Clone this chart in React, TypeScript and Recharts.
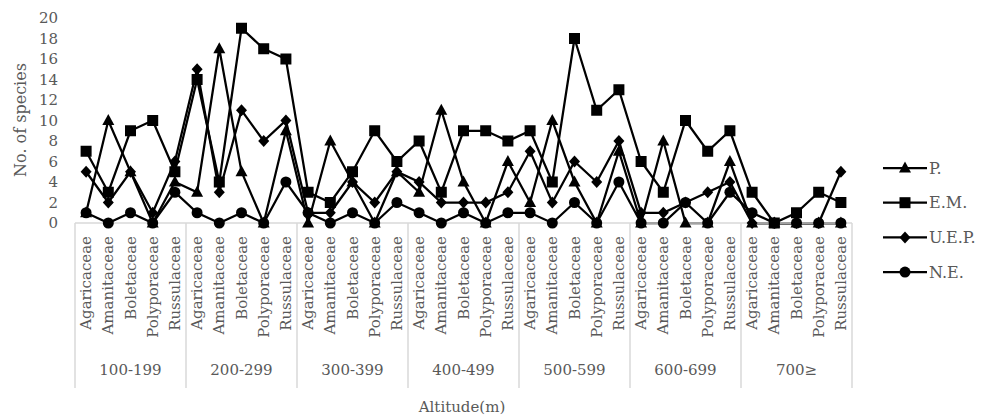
import React from 'react';
import { LineChart, Line, XAxis, YAxis, Legend } from 'recharts';

const families = ['Agaricaceae', 'Amanitaceae', 'Boletaceae', 'Polyporaceae', 'Russulaceae'];
const altitudes = ['100-199', '200-299', '300-399', '400-499', '500-599', '600-699', '700≥'];

// values per altitude group, 5 families each
const pValues = [1, 10, 5, 0, 4, 3, 17, 5, 0, 9, 0, 8, 4, 0, 5, 3, 11, 4, 0, 6, 2, 10, 4, 0, 7, 0, 8, 0, 0, 6, 0, 0, 0, 0, 0];
const emValues = [7, 3, 9, 10, 5, 14, 4, 19, 17, 16, 3, 2, 5, 9, 6, 8, 3, 9, 9, 8, 9, 4, 18, 11, 13, 6, 3, 10, 7, 9, 3, 0, 1, 3, 2];
const uepValues = [5, 2, 5, 1, 6, 15, 3, 11, 8, 10, 1, 1, 4, 2, 5, 4, 2, 2, 2, 3, 7, 2, 6, 4, 8, 1, 1, 2, 3, 4, 0, 0, 0, 0, 5];
const neValues = [1, 0, 1, 0, 3, 1, 0, 1, 0, 4, 1, 0, 1, 0, 2, 1, 0, 1, 0, 1, 1, 0, 2, 0, 4, 0, 0, 2, 0, 3, 1, 0, 0, 0, 0];
const yTicks = [0, 2, 4, 6, 8, 10, 12, 14, 16, 18, 20];

const data = altitudes.flatMap((alt, g) =>
  families.map((fam, f) => {
    const i = g * 5 + f;
    return { key: `${alt}|${fam}`, alt, fam, p: pValues[i], em: emValues[i], uep: uepValues[i], ne: neValues[i] };
  })
);

const W = 991;
const H = 417;
const LEFT = 75;
const RIGHT = 852;
const TOP = 18;
const AXIS_Y = 223;
const LEGEND_W = 110;
const BW = (RIGHT - LEFT) / data.length;
const GRAY = '#595959';
const LINE_GRAY = '#d9d9d9';
const FONT = 'DejaVu Serif';

type Shape = 'triangle' | 'square' | 'diamond' | 'circle';

const marker = (shape: Shape, cx: number, cy: number, key?: string) => {
  switch (shape) {
    case 'triangle':
      return <path key={key} d={`M${cx},${cy - 6.5} L${cx + 6},${cy + 4.5} L${cx - 6},${cy + 4.5} Z`} fill="#000" />;
    case 'square':
      return <rect key={key} x={cx - 5.5} y={cy - 5.5} width={11} height={11} fill="#000" />;
    case 'diamond':
      return <path key={key} d={`M${cx},${cy - 6} L${cx + 5.5},${cy} L${cx},${cy + 6} L${cx - 5.5},${cy} Z`} fill="#000" />;
    default:
      return <circle key={key} cx={cx} cy={cy} r={5.5} fill="#000" />;
  }
};

const makeDot = (shape: Shape) => (props: any) => {
  const { cx, cy, index } = props;
  if (cx == null || cy == null) return <g key={`n${index}`} />;
  return marker(shape, cx, cy, `${shape}${index}`);
};

const series: { key: string; name: string; shape: Shape }[] = [
  { key: 'p', name: 'P.', shape: 'triangle' },
  { key: 'em', name: 'E.M.', shape: 'square' },
  { key: 'uep', name: 'U.E.P.', shape: 'diamond' },
  { key: 'ne', name: 'N.E.', shape: 'circle' },
];

const CategoryTick = (props: any) => {
  const { x, payload } = props;
  const i = payload?.index ?? props.index ?? 0;
  const fam = families[i % 5];
  const g = Math.floor(i / 5);
  return (
    <g>
      <text
        x={x}
        y={236}
        transform={`rotate(-90 ${x} 236)`}
        textAnchor="end"
        dominantBaseline="central"
        fontSize={15}
        fontFamily={FONT}
        fill={GRAY}
      >
        {fam}
      </text>
      {i % 5 === 0 && (
        <>
          <line x1={x - BW / 2} x2={x - BW / 2} y1={AXIS_Y} y2={388} stroke={LINE_GRAY} strokeWidth={1.5} />
          <text
            x={x + 2 * BW}
            y={370}
            textAnchor="middle"
            dominantBaseline="central"
            fontSize={15}
            fontFamily={FONT}
            fill={GRAY}
          >
            {altitudes[g]}
          </text>
        </>
      )}
      {i === data.length - 1 && (
        <line x1={x + BW / 2} x2={x + BW / 2} y1={AXIS_Y} y2={388} stroke={LINE_GRAY} strokeWidth={1.5} />
      )}
    </g>
  );
};

const LegendContent = () => (
  <svg width={LEGEND_W} height={130} style={{ display: 'block' }}>
    {series.map((s, k) => {
      const y = 13 + k * 34.7;
      return (
        <g key={s.key}>
          <line x1={3} x2={47} y1={y} y2={y} stroke="#000" strokeWidth={2.25} />
          {marker(s.shape, 25, y)}
          <text x={49} y={y} dominantBaseline="central" fontSize={16} fontFamily={FONT} fill={GRAY}>
            {s.name}
          </text>
        </g>
      );
    })}
  </svg>
);

export default function App() {
  return (
    <div style={{ position: 'absolute', left: 0, top: 0, width: W, height: H, background: '#fff' }}>
      <LineChart
        width={W}
        height={H}
        data={data}
        margin={{ top: TOP, right: W - RIGHT - LEGEND_W, bottom: 0, left: 0 }}
      >
        <XAxis
          dataKey="key"
          scale="band"
          interval={0}
          tickLine={false}
          axisLine={{ stroke: LINE_GRAY, strokeWidth: 1.5 }}
          tick={CategoryTick}
          height={H - AXIS_Y}
          label={{
            content: () => (
              <text x={462} y={407} textAnchor="middle" dominantBaseline="central" fontSize={15} fontFamily={FONT} fill={GRAY}>
                Altitude(m)
              </text>
            ),
          }}
        />
        <YAxis
          width={LEFT}
          domain={[0, 20]}
          ticks={yTicks}
          interval={0}
          axisLine={false}
          tickLine={false}
          tickMargin={11}
          tick={{ fontSize: 15, fontFamily: FONT, fill: GRAY }}
          label={{
            content: () => (
              <text
                x={20}
                y={120}
                transform="rotate(-90 20 120)"
                textAnchor="middle"
                dominantBaseline="central"
                fontSize={16}
                fontFamily={FONT}
                fill={GRAY}
              >
                No. of species
              </text>
            ),
          }}
        />
        <Legend
          layout="vertical"
          verticalAlign="middle"
          align="right"
          content={LegendContent}
          wrapperStyle={{ position: 'absolute', left: 880, top: 155, width: LEGEND_W, height: 130 }}
        />
        {series.map((s) => (
          <Line
            key={s.key}
            dataKey={s.key}
            name={s.name}
            stroke="#000"
            strokeWidth={2.25}
            dot={makeDot(s.shape)}
            activeDot={false}
            isAnimationActive={false}
          />
        ))}
      </LineChart>
    </div>
  );
}
